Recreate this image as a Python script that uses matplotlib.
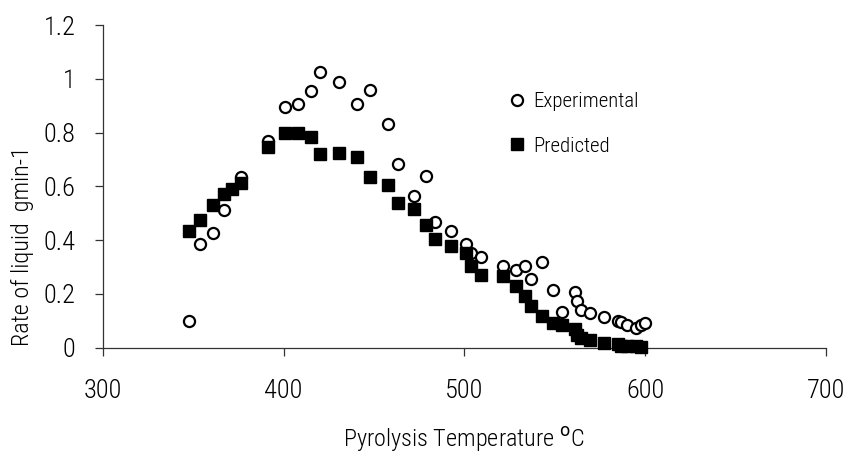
import matplotlib
matplotlib.use("Agg")
import matplotlib.pyplot as plt

plt.rcParams['font.family'] = ['Roboto Condensed', 'Liberation Sans', 'DejaVu Sans']
plt.rcParams['font.weight'] = 300

temp = [347.5, 353.6, 360.9, 367.0, 371.6, 376.5, 391.2, 400.8, 407.9, 415.1, 420.0,
        430.6, 440.6, 447.7, 457.5, 463.3, 472.0, 479.0, 483.9, 492.7, 500.8, 503.7,
        509.2, 521.4, 528.7, 533.4, 537.0, 543.0, 549.0, 554.1, 561.0, 562.3, 564.7,
        569.6, 577.0, 584.9, 586.7, 590.0, 594.9, 597.4]

temp_exp = [347.5, 353.6, 360.9, 367.0, 376.5, 391.2, 400.8, 407.9, 415.1, 420.0,
            430.6, 440.6, 447.7, 457.5, 463.3, 472.0, 478.9, 483.9, 492.7, 500.8, 503.7,
            509.2, 521.4, 528.7, 533.4, 537.0, 543.1, 549.0, 554.1, 561.0, 562.3, 564.7,
            569.6, 577.0, 584.9, 586.7, 590.0, 594.9, 597.4, 600.1]
experimental = [0.10, 0.384, 0.425, 0.514, 0.636, 0.77, 0.896, 0.905, 0.954, 1.026,
                0.987, 0.905, 0.96, 0.832, 0.685, 0.564, 0.638, 0.466, 0.435, 0.386, 0.353,
                0.337, 0.305, 0.288, 0.305, 0.255, 0.318, 0.213, 0.133, 0.206, 0.174, 0.14,
                0.13, 0.115, 0.10, 0.097, 0.084, 0.074, 0.084, 0.093]

predicted = [0.434, 0.475, 0.53, 0.571, 0.592, 0.613, 0.745, 0.80, 0.80, 0.782, 0.719,
             0.725, 0.71, 0.636, 0.605, 0.54, 0.516, 0.456, 0.403, 0.378, 0.351, 0.305,
             0.27, 0.265, 0.231, 0.191, 0.157, 0.118, 0.093, 0.086, 0.069, 0.047, 0.035,
             0.029, 0.019, 0.012, 0.008, 0.005, 0.005, 0.004]

xticks = [300, 400, 500, 600, 700]
yticks = [0, 0.2, 0.4, 0.6, 0.8, 1.0, 1.2]
yticklabels = ["0", "0.2", "0.4", "0.6", "0.8", "1", "1.2"]

fig = plt.figure(figsize=(8.49, 4.55), dpi=100)
ax = fig.add_axes([0.121, 0.2358, 0.852, 0.709])

ax.plot(temp_exp, experimental, linestyle='none', marker='o', markersize=8,
        markerfacecolor='white', markeredgecolor='black', markeredgewidth=1.6,
        label='Experimental', zorder=2, clip_on=False)
ax.plot(temp, predicted, linestyle='none', marker='s', markersize=8.8,
        markerfacecolor='black', markeredgecolor='black', label='Predicted', zorder=3,
        clip_on=False)

ax.set_xlim(300, 700)
ax.set_ylim(0, 1.2)
ax.set_xticks(xticks)
ax.set_xticklabels([str(t) for t in xticks])
ax.set_yticks(yticks)
ax.set_yticklabels(yticklabels)
for s in ['top', 'right']:
    ax.spines[s].set_visible(False)
for s in ['left', 'bottom']:
    ax.spines[s].set_linewidth(0.9)
    ax.spines[s].set_color('#333333')
ax.tick_params(axis='both', direction='out', length=5.6, width=0.9, color='#333333',
               labelsize=19)
ax.tick_params(axis='y', pad=14)
ax.tick_params(axis='x', pad=17)

leg = ax.legend(loc='upper left', bbox_to_anchor=(0.558, 0.792), frameon=False,
                prop={'size': 15, 'weight': 300}, handletextpad=0.3, labelspacing=1.22,
                handlelength=1.0, borderaxespad=0, borderpad=0)

fig.text(0.5465, 0.018, 'Pyrolysis Temperature $^{\\mathrm{o}}$C', ha='center', va='baseline',
         fontsize=17.5)
fig.text(0.0265, 0.46, 'Rate of liquid  gmin-1', rotation=90, ha='center', va='center',
         fontsize=17.5)

fig.savefig('out.png', dpi=100)
